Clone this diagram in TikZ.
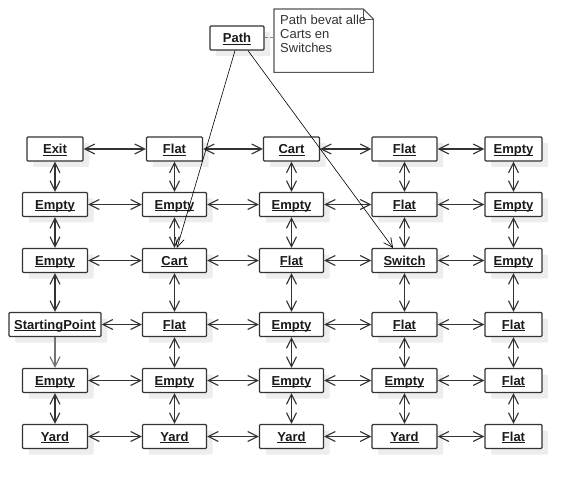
\documentclass[tikz,border=0pt]{standalone}
\usepackage{fontspec}
\setmainfont{Liberation Sans}
\usetikzlibrary{arrows.meta,shadows,calc}
\definecolor{edge}{HTML}{333333}
\definecolor{shade}{HTML}{EDEDED}
\definecolor{notegray}{HTML}{555555}
\definecolor{labeltxt}{HTML}{1A1A1A}
\newcommand\ulb[1]{\setbox0=\hbox{#1}\rlap{\rule[-2.3pt]{\wd0}{1.1pt}}\box0}
\tikzset{
  cell/.style={draw=edge, line width=1.2pt, fill=white, rounded corners=1pt,
    minimum height=24pt, inner sep=0pt, text=labeltxt,
    text height=12pt, text depth=2.7pt,
    font=\fontsize{13}{15}\selectfont\bfseries,
    drop shadow={shadow xshift=6pt, shadow yshift=-6pt, fill=shade, opacity=1}},
  wA/.style={minimum width=56pt},
  wB/.style={minimum width=64pt},
  wC/.style={minimum width=65pt},
  wD/.style={minimum width=57pt},
  tipV/.tip={Straight Barb[length=10pt,width=10pt,line width=1.1pt]},
  link/.style={draw=edge, line width=1.4pt, tipV-tipV},
  onelink/.style={draw=black!55, line width=1.1pt, -tipV},
  pathlink/.style={draw=black, line width=0.6pt, -{Straight Barb[length=9pt,width=9pt,line width=0.7pt]}},
}
\begin{document}
\begin{tikzpicture}[x=1pt,y=-1pt]
\useasboundingbox (0,0) rectangle (581,489);
% note
\node[minimum width=99pt, minimum height=63pt, inner sep=0pt, anchor=north west] (note) at (274,9) {};
\draw[notegray, line width=1.1pt, fill=white]
  (note.north west) -- ($(note.north east)+(-10,0)$) -- ($(note.north east)+(0,10)$)
  -- (note.south east) -- (note.south west) -- cycle;
\draw[notegray, line width=0.8pt] ($(note.north east)+(-10,0)$) -- ($(note.north east)+(-10,10)$) -- ($(note.north east)+(0,10)$);
\node[anchor=north west, inner sep=0pt, align=left, text=edge,
  font=\fontsize{13}{14}\selectfont] (notetext) at (280,15)
  {Path bevat alle\\Carts en\\Switches};
% path
\node[cell, minimum width=54pt] (path) at (237,38) {\ulb{Path}};
\draw[gray, line width=1pt, dashed, dash pattern=on 3pt off 2pt] (path.east) -- (path.east -| note.west);
% grid
\node[cell,wA] (n00) at (55,149) {\ulb{Exit}};
\node[cell,wA] (n01) at (174.5,149) {\ulb{Flat}};
\node[cell,wA] (n02) at (291.5,149) {\ulb{Cart}};
\node[cell,wC] (n03) at (404.5,149) {\ulb{Flat}};
\node[cell,wD] (n04) at (513.5,149) {\ulb{Empty}};
\node[cell,wC] (n10) at (55,204.5) {\ulb{Empty}};
\node[cell,wB] (n11) at (174.5,204.5) {\ulb{Empty}};
\node[cell,wB] (n12) at (291.5,204.5) {\ulb{Empty}};
\node[cell,wC] (n13) at (404.5,204.5) {\ulb{Flat}};
\node[cell,wD] (n14) at (513.5,204.5) {\ulb{Empty}};
\node[cell,wC] (n20) at (55,260.5) {\ulb{Empty}};
\node[cell,wB] (n21) at (174.5,260.5) {\ulb{Cart}};
\node[cell,wB] (n22) at (291.5,260.5) {\ulb{Flat}};
\node[cell,wC] (n23) at (404.5,260.5) {\ulb{Switch}};
\node[cell,wD] (n24) at (513.5,260.5) {\ulb{Empty}};
\node[cell,minimum width=92pt] (n30) at (55,324.5) {\ulb{StartingPoint}};
\node[cell,wB] (n31) at (174.5,324.5) {\ulb{Flat}};
\node[cell,wB] (n32) at (291.5,324.5) {\ulb{Empty}};
\node[cell,wC] (n33) at (404.5,324.5) {\ulb{Flat}};
\node[cell,wD] (n34) at (513.5,324.5) {\ulb{Flat}};
\node[cell,wC] (n40) at (55,380.5) {\ulb{Empty}};
\node[cell,wB] (n41) at (174.5,380.5) {\ulb{Empty}};
\node[cell,wB] (n42) at (291.5,380.5) {\ulb{Empty}};
\node[cell,wC] (n43) at (404.5,380.5) {\ulb{Empty}};
\node[cell,wD] (n44) at (513.5,380.5) {\ulb{Flat}};
\node[cell,wC] (n50) at (55,436.5) {\ulb{Yard}};
\node[cell,wB] (n51) at (174.5,436.5) {\ulb{Yard}};
\node[cell,wB] (n52) at (291.5,436.5) {\ulb{Yard}};
\node[cell,wC] (n53) at (404.5,436.5) {\ulb{Yard}};
\node[cell,wD] (n54) at (513.5,436.5) {\ulb{Flat}};
% horizontal links
\foreach \r in {0,...,5}
  \foreach \c/\d in {0/1,1/2,2/3,3/4}
    \draw[link] (n\r\c) -- (n\r\d);
% vertical links
\foreach \c in {1,...,4}
  \foreach \r/\s in {0/1,1/2,2/3,3/4,4/5}
    \draw[link] (n\r\c) -- (n\s\c);
\foreach \r/\s in {0/1,1/2,2/3,4/5}
  \draw[link] (n\r0) -- (n\s0);
\draw[onelink] (n30) -- (n40);
% path links
\draw[pathlink] ($(path.south)+(-2,0)$) -- ($(n21.north)+(2.5,0)$);
\draw[pathlink] ($(path.south)+(11,0)$) -- ($(n23.north)+(-11.5,0)$);
\end{tikzpicture}
\end{document}
